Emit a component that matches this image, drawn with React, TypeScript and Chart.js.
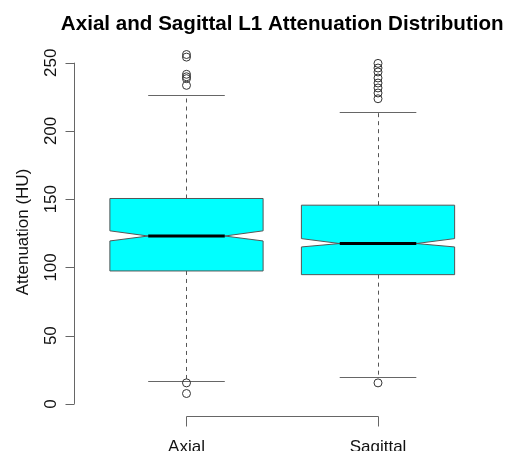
import React, { useEffect, useRef } from "react";
import { Chart, registerables } from "chart.js";

Chart.register(...registerables);

const title = "Axial and Sagittal L1 Attenuation Distribution";
const yAxisTitle = "Attenuation (HU)";
const categories = ["Axial", "Sagittal"];
const q1 = [97.4, 94.7];
const medians = [123.0, 117.5];
const q3 = [150.5, 145.6];
const notchLow = [119.4, 115.0];
const notchHigh = [126.8, 121.1];
const whiskerLow = [16.9, 19.8];
const whiskerHigh = [226.5, 214.0];
const axialOutliers = [256.0, 254.1, 241.5, 239.7, 238.3, 233.4, 15.4, 7.6];
const sagittalOutliers = [249.5, 246.1, 243.2, 238.8, 235.1, 231.5, 227.8, 223.6, 15.4];
const yTicks = [0, 50, 100, 150, 200, 250];

const FONT = "'Liberation Sans', Arial, Helvetica, sans-serif";
const BOX_HALF = 0.4;

const boxPlugin = {
  id: "rbox",
  beforeDatasetsDraw(chart: any) {
    const ctx = chart.ctx;
    const xs = chart.scales.x;
    const ys = chart.scales.y;
    ctx.save();
    categories.forEach((_, i) => {
      const xc = i + 1;
      const xl = xs.getPixelForValue(xc - BOX_HALF);
      const xr = xs.getPixelForValue(xc + BOX_HALF);
      const xil = xs.getPixelForValue(xc - BOX_HALF / 2);
      const xir = xs.getPixelForValue(xc + BOX_HALF / 2);
      const xm = xs.getPixelForValue(xc);
      const yq1 = ys.getPixelForValue(q1[i]);
      const yq3 = ys.getPixelForValue(q3[i]);
      const ym = ys.getPixelForValue(medians[i]);
      const ynl = ys.getPixelForValue(notchLow[i]);
      const ynh = ys.getPixelForValue(notchHigh[i]);
      const ywl = ys.getPixelForValue(whiskerLow[i]);
      const ywh = ys.getPixelForValue(whiskerHigh[i]);

      // whiskers (dashed)
      ctx.strokeStyle = "#555";
      ctx.lineWidth = 1;
      ctx.setLineDash([4, 4]);
      ctx.beginPath();
      ctx.moveTo(Math.round(xm) + 0.5, yq3);
      ctx.lineTo(Math.round(xm) + 0.5, ywh);
      ctx.moveTo(Math.round(xm) + 0.5, yq1);
      ctx.lineTo(Math.round(xm) + 0.5, ywl);
      ctx.stroke();
      ctx.setLineDash([]);
      // staples
      ctx.strokeStyle = "#666";
      ctx.beginPath();
      ctx.moveTo(xil, Math.round(ywh) + 0.5);
      ctx.lineTo(xir, Math.round(ywh) + 0.5);
      ctx.moveTo(xil, Math.round(ywl) + 0.5);
      ctx.lineTo(xir, Math.round(ywl) + 0.5);
      ctx.stroke();

      // notched box
      ctx.beginPath();
      ctx.moveTo(xl, yq3);
      ctx.lineTo(xr, yq3);
      ctx.lineTo(xr, ynh);
      ctx.lineTo(xir, ym);
      ctx.lineTo(xr, ynl);
      ctx.lineTo(xr, yq1);
      ctx.lineTo(xl, yq1);
      ctx.lineTo(xl, ynl);
      ctx.lineTo(xil, ym);
      ctx.lineTo(xl, ynh);
      ctx.closePath();
      ctx.fillStyle = "#00FFFF";
      ctx.fill();
      ctx.strokeStyle = "#555";
      ctx.lineWidth = 1;
      ctx.stroke();

      // median
      ctx.strokeStyle = "#000";
      ctx.lineWidth = 3;
      ctx.beginPath();
      ctx.moveTo(xil, ym);
      ctx.lineTo(xir, ym);
      ctx.stroke();
    });
    ctx.restore();
  },
  afterDraw(chart: any) {
    const ctx = chart.ctx;
    const xs = chart.scales.x;
    const ys = chart.scales.y;
    const area = chart.chartArea;
    ctx.save();
    ctx.strokeStyle = "#666";
    ctx.lineWidth = 1;
    ctx.fillStyle = "#111";

    // y axis
    const ax = Math.round(area.left) - 0.5;
    const y0 = ys.getPixelForValue(yTicks[0]);
    const y1 = ys.getPixelForValue(yTicks[yTicks.length - 1]);
    ctx.beginPath();
    ctx.moveTo(ax, y0);
    ctx.lineTo(ax, y1);
    yTicks.forEach((t) => {
      const py = Math.round(ys.getPixelForValue(t)) + 0.5;
      ctx.moveTo(ax, py);
      ctx.lineTo(ax - 9, py);
    });
    ctx.stroke();
    ctx.font = `17px ${FONT}`;
    ctx.textAlign = "center";
    ctx.textBaseline = "middle";
    yTicks.forEach((t) => {
      const py = ys.getPixelForValue(t);
      ctx.save();
      ctx.translate(51, py);
      ctx.rotate(-Math.PI / 2);
      ctx.fillText(String(t), 0, 0);
      ctx.restore();
    });
    // y axis title
    ctx.save();
    ctx.translate(23, 232);
    ctx.rotate(-Math.PI / 2);
    ctx.fillText(yAxisTitle, 0, 0);
    ctx.restore();

    // x axis
    const xa = xs.getPixelForValue(1);
    const xb = xs.getPixelForValue(categories.length);
    const bx = 416.5;
    ctx.beginPath();
    ctx.moveTo(Math.round(xa) + 0.5, bx + 10);
    ctx.lineTo(Math.round(xa) + 0.5, bx);
    ctx.lineTo(Math.round(xb) + 0.5, bx);
    ctx.lineTo(Math.round(xb) + 0.5, bx + 10);
    ctx.stroke();
    ctx.textBaseline = "alphabetic";
    categories.forEach((c, i) => {
      ctx.fillText(c, xs.getPixelForValue(i + 1), 451.5);
    });

    // title
    ctx.font = `bold 20.6px ${FONT}`;
    ctx.fillStyle = "#000";
    ctx.fillText(title, (area.left + area.right) / 2, 30);
    ctx.restore();
  },
};

export default function App() {
  const ref = useRef<HTMLCanvasElement | null>(null);
  useEffect(() => {
    if (!ref.current) return;
    const chart = new Chart(ref.current, {
      type: "scatter",
      data: {
        datasets: [
          {
            label: categories[0] + " outliers",
            data: axialOutliers.map((v) => ({ x: 1, y: v })),
          },
          {
            label: categories[1] + " outliers",
            data: sagittalOutliers.map((v) => ({ x: 2, y: v })),
          },
        ].map((d) => ({
          ...d,
          pointStyle: "circle",
          pointRadius: 4,
          pointBorderWidth: 1,
          pointBorderColor: "#333",
          pointBackgroundColor: "rgba(0,0,0,0)",
        })),
      },
      options: {
        animation: false,
        responsive: false,
        events: [],
        layout: { padding: { left: 75.4, right: 15.9, top: 41, bottom: 44.4 } },
        plugins: {
          legend: { display: false },
          tooltip: { enabled: false },
          title: { display: false },
        },
        scales: {
          x: { type: "linear", min: 0.42, max: 2.58, display: false },
          y: { type: "linear", min: -1.98, max: 265.9, display: false },
        },
      },
      plugins: [boxPlugin],
    });
    return () => chart.destroy();
  }, []);
  return (
    <div style={{ position: "absolute", left: 0, top: 0, width: 505, height: 451, background: "#fff" }}>
      <canvas ref={ref} width={505} height={451} style={{ display: "block" }} />
    </div>
  );
}
